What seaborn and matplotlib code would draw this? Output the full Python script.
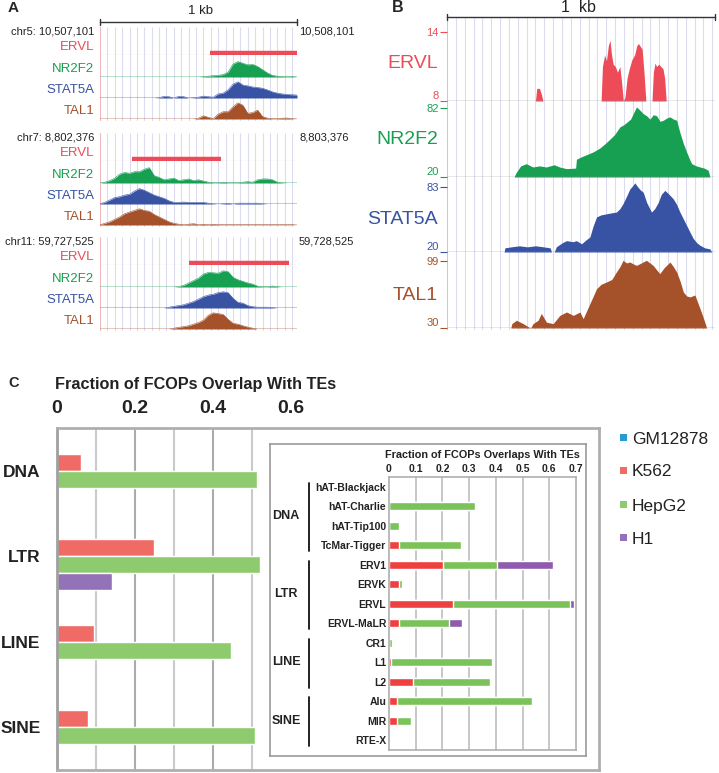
import numpy as np
import pandas as pd
import seaborn as sns
import matplotlib.pyplot as plt
from matplotlib.patches import Rectangle

sns.set_theme(style="white")
plt.rcParams['font.family'] = ['Liberation Sans', 'DejaVu Sans']

# ---------------- data ----------------
# panel A: three 1 kb loci, signal in 25 bp bins (relative height)
POS_A = np.arange(0, 1001, 25)
LOCI = ["chr5: 10,507,101", "chr7: 8,802,376", "chr11: 59,727,525"]
LOCI_END = ["10,508,101", "8,803,376", "59,728,525"]
ERVL_A = [(556, 1000), (160, 615), (450, 958)]

NR2F2_A = [
    [0, 0, 0, 0, 0, 0, 0, 0, 0, 0, 0, 0, 0, 0, 0, 0, 0, 0, 0, 0, 0,
     0.02, 0.05, 0.08, 0.1, 0.15, 0.3, 0.8, 0.95, 0.85, 0.75, 0.78, 0.65, 0.45, 0.25, 0.1, 0.05, 0.03, 0.02, 0.03, 0],
    [0, 0.05, 0.15, 0.3, 0.55, 0.65, 0.6, 0.7, 0.7, 0.85, 0.95, 0.45, 0.35, 0.2, 0.25, 0.3, 0.15, 0.2, 0.25, 0.15, 0.2,
     0.12, 0.05, 0.02, 0.02, 0.05, 0.02, 0.02, 0.02, 0.05, 0.08, 0.05, 0.2, 0.25, 0.25, 0.2, 0.05, 0.02, 0, 0, 0],
    [0, 0, 0, 0, 0, 0, 0, 0, 0, 0, 0, 0, 0, 0, 0, 0, 0.03, 0.1, 0.25, 0.4, 0.55,
     0.8, 0.9, 0.88, 0.85, 1.0, 0.95, 0.6, 0.45, 0.35, 0.25, 0.18, 0.05, 0.02, 0.02, 0.06, 0.02, 0, 0, 0, 0],
]
STAT5A_A = [
    [0, 0, 0, 0, 0, 0, 0, 0, 0, 0, 0, 0, 0.02, 0.1, 0.08, 0, 0.1, 0.08, 0, 0.02, 0.05,
     0.12, 0.08, 0.05, 0.25, 0.3, 0.5, 0.85, 1.0, 0.8, 0.75, 0.68, 0.65, 0.6, 0.5, 0.38, 0.3, 0.25, 0.22, 0.2, 0.18],
    [0.02, 0.1, 0.25, 0.4, 0.45, 0.55, 0.6, 0.8, 0.95, 0.85, 0.7, 0.55, 0.45, 0.35, 0.2, 0.1, 0.1, 0.12, 0.1, 0.1, 0.1,
     0.1, 0.05, 0.02, 0, 0.02, 0.05, 0, 0.05, 0.05, 0.05, 0.05, 0.05, 0.02, 0, 0, 0, 0, 0, 0, 0],
    [0, 0, 0, 0, 0, 0, 0, 0, 0, 0, 0, 0, 0, 0, 0.05, 0.1, 0.15, 0.2, 0.3, 0.4, 0.55,
     0.7, 0.8, 0.85, 0.95, 1.0, 0.95, 0.6, 0.35, 0.3, 0.15, 0.08, 0.05, 0.05, 0.05, 0.03, 0, 0, 0, 0, 0],
]
TAL1_A = [
    [0, 0, 0, 0, 0, 0, 0, 0, 0, 0, 0, 0, 0, 0, 0, 0, 0, 0, 0, 0, 0.05,
     0.2, 0.1, 0.02, 0.3, 0.45, 0.45, 0.75, 1.0, 0.85, 0.35, 0.4, 0.55, 0.15, 0.05, 0.02, 0.02, 0.05, 0.06, 0.02, 0],
    [0.02, 0.1, 0.2, 0.35, 0.5, 0.7, 0.8, 0.9, 1.0, 0.9, 0.85, 0.65, 0.5, 0.35, 0.2, 0.1, 0.05, 0.02, 0.05, 0.08, 0.02,
     0.05, 0.02, 0.05, 0.02, 0.02, 0.02, 0.02, 0.02, 0.02, 0.02, 0.02, 0.02, 0.02, 0.02, 0.02, 0.02, 0.02, 0.02, 0.02, 0],
    [0, 0, 0, 0, 0, 0, 0, 0, 0, 0, 0, 0, 0, 0, 0, 0.05, 0.1, 0.15, 0.2, 0.3, 0.4,
     0.55, 0.85, 1.0, 0.95, 0.9, 0.6, 0.35, 0.3, 0.2, 0.12, 0.05, 0, 0, 0, 0, 0, 0, 0, 0, 0],
]

# panel B: one zoomed 1 kb region, (position bp, signal)
ERVL_B_POS = [0, 330, 335, 345, 352, 358, 575, 580, 588, 595, 602, 608, 614, 620, 628, 636,
              645, 652, 658, 664, 672, 680, 690, 700, 708, 714, 720, 728, 735, 742, 765, 770,
              776, 782, 790, 798, 806, 812, 818, 1000]
ERVL_B_VAL = [8, 8, 9.1, 9.1, 8.6, 8, 8, 11.0, 12.0, 11.5, 12.8, 13.3, 12.0, 11.2, 11.0, 10.5,
              11.0, 9.5, 8, 8.3, 10.0, 10.8, 11.6, 12.0, 12.8, 13.0, 12.8, 12.5, 10.5, 8, 8, 10.5,
              11.3, 11.0, 11.2, 11.0, 10.8, 10.0, 8, 8]
NR2F2_B_POS = [0, 250, 258, 275, 296, 320, 345, 370, 400, 420, 446, 480, 483, 500, 520, 545, 570,
               590, 608, 625, 645, 660, 670, 685, 695, 707, 720, 732, 745, 757, 770, 782, 795, 807,
               820, 832, 845, 857, 869, 882, 894, 905, 913, 930, 944, 960, 975, 981, 1000]
NR2F2_B_VAL = [20, 20, 24, 30, 32, 29, 30, 29, 31, 29, 27.5, 28, 36, 38, 40, 42.5, 46,
               50, 54, 58, 65, 67, 69, 72, 77, 83, 80, 77, 75, 72, 76, 75, 70, 71,
               73, 74, 72, 71, 60, 50, 42.5, 36, 32, 30, 29, 28, 26, 20, 20]
STAT5A_B_POS = [0, 213, 216, 240, 270, 300, 330, 360, 385, 390, 400, 408, 430, 446, 470, 483, 502,
                520, 533, 545, 558, 575, 595, 615, 632, 645, 657, 670, 682, 692, 701, 712, 722, 732,
                745, 763, 775, 788, 800, 813, 828, 844, 857, 869, 882, 894, 907, 919, 932, 944, 962,
                981, 988, 1000]
STAT5A_B_VAL = [20, 20, 24, 25, 26, 25, 26, 25, 24, 20, 20, 25, 29, 31, 30, 31, 28,
                32, 34.5, 45, 54, 56, 57, 58, 58.7, 62, 67, 74, 81, 84, 87, 83, 80, 78,
                68, 58.7, 62, 68, 76, 79.7, 76, 71.6, 66, 58.7, 52, 45.8, 39, 33, 29, 26.5, 24,
                23, 20, 20]
TAL1_B_POS = [0, 238, 242, 259, 284, 305, 312, 321, 340, 352, 371, 396, 421, 446, 471, 496, 508,
              533, 558, 575, 595, 615, 632, 645, 657, 670, 682, 695, 707, 725, 744, 757, 769, 782,
              794, 810, 832, 845, 857, 870, 882, 894, 907, 925, 944, 957, 969, 1000]
TAL1_B_VAL = [30, 30, 34.5, 38, 34.5, 31, 30, 34.5, 38, 45, 36, 34.5, 43, 46.5, 43, 46.5, 39.6,
              55, 70.5, 75, 77.4, 80, 87.7, 93, 99.7, 97, 98, 96, 94.5, 97, 99.7, 97, 94.5, 90,
              86, 92, 98, 93, 87.7, 78, 67, 63, 62, 64, 50, 40, 30, 30]

# panel C: main chart
CLASSES = ["DNA", "LTR", "LINE", "SINE"]
CELLS = ["GM12878", "K562", "HepG2", "H1"]
MAIN_GM12878 = [0, 0, 0, 0]
MAIN_K562 = [0.062, 0.25, 0.095, 0.08]
MAIN_HEPG2 = [0.515, 0.522, 0.447, 0.509]
MAIN_H1 = [0, 0.142, 0, 0]

# panel C: inset (stacked)
INSET_LABELS = ["hAT-Blackjack", "hAT-Charlie", "hAT-Tip100", "TcMar-Tigger", "ERV1", "ERVK",
                "ERVL", "ERVL-MaLR", "CR1", "L1", "L2", "Alu", "MIR", "RTE-X"]
INSET_K562 = [0, 0, 0, 0.036, 0.203, 0.036, 0.241, 0.036, 0, 0.008, 0.09, 0.03, 0.03, 0]
INSET_HEPG2 = [0, 0.322, 0.038, 0.232, 0.201, 0.014, 0.435, 0.188, 0.01, 0.379, 0.289, 0.504, 0.052, 0]
INSET_H1 = [0, 0, 0, 0, 0.209, 0, 0.016, 0.048, 0, 0, 0, 0, 0, 0]
GROUPS = [("DNA", 0, 3), ("LTR", 4, 7), ("LINE", 8, 10), ("SINE", 11, 13)]

# ---------------- colours ----------------
C_ERVL, C_NR2F2, C_STAT5A, C_TAL1 = "#EC4B57", "#17A052", "#3853A4", "#A5522A"
LAV, PINK = "#DCDCF0", "#F3B3B3"
MAIN_COLORS = ["#2B9AD4", "#F06A66", "#8DCB6E", "#9472B8"]
INSET_COLORS = ["#2B9AD4", "#EE4040", "#7CC25A", "#8E5BAE"]
GRID_GREY = "#BDBDBD"

W, H = 719, 773
fig = plt.figure(figsize=(W / 100, H / 100), dpi=100)


def px_axes(x0, y0, x1, y1, z=1):
    ax = fig.add_axes([x0 / W, 1 - y1 / H, (x1 - x0) / W, (y1 - y0) / H])
    ax.set_zorder(z)
    ax.patch.set_alpha(0)
    return ax


ov = px_axes(0, 0, W, H, z=20)
ov.set_xlim(0, W)
ov.set_ylim(H, 0)
ov.axis('off')

# ---------------- panel A ----------------
ov.text(8, 8, "A", fontsize=11, fontweight='bold', va='center')
ov.plot([100, 297], [22, 22], color="#333333", lw=1)
ov.plot([100, 100], [19, 25], color="#333333", lw=1)
ov.plot([297, 297], [19, 25], color="#333333", lw=1)
ov.text(200, 11, "1 kb", fontsize=9.5, ha='center', va='center', color="#222222")

GRID_A = np.arange(0, 1001, 37.5)
offsets = [28, 50, 71, 92]
for b, top in enumerate([27, 133, 237]):
    bg = px_axes(100, top, 297, top + 94, z=1)
    bg.set_xlim(0, 1000)
    bg.set_ylim(0, 1)
    bg.axis('off')
    bg.vlines(GRID_A, 0, 1, color=LAV, lw=0.8)
    bg.axvline(0, color=PINK, lw=1.2)
    ov.text(94, top + 5, LOCI[b], fontsize=8, ha='right', va='center', color="#222222")
    ov.text(299, top + 5, LOCI_END[b], fontsize=8, ha='left', va='center', color="#222222")
    tracks = [("ERVL", C_ERVL, None), ("NR2F2", C_NR2F2, NR2F2_A[b]),
              ("STAT5A", C_STAT5A, STAT5A_A[b]), ("TAL1", C_TAL1, TAL1_A[b])]
    for k, (name, col, vals) in enumerate(tracks):
        base = top + offsets[k]
        ax = px_axes(100, base - 17, 297, base, z=2)
        if vals is None:
            ax.axhline(0, color=col, lw=0.8, alpha=0.6)
            s, e = ERVL_A[b]
            ax.hlines(0.12, s, e, color=col, lw=3.2)
        else:
            ax.fill_between(POS_A, 0, vals, color=col, lw=0)
            sns.lineplot(x=POS_A, y=vals, ax=ax, color=col, lw=0.4)
            ax.axhline(0, color=col, lw=0.8, alpha=0.7)
        ax.set_xlim(0, 1000)
        ax.set_ylim(0, 1.05)
        ax.axis('off')
        ov.text(94, base - 8, name, fontsize=9.5, ha='right', va='center', color=col)

# ---------------- panel B ----------------
ov.text(392, 8, "B", fontsize=11.5, fontweight='bold', va='center')
ov.plot([447, 715], [17, 17], color="#333333", lw=1)
ov.plot([447, 447], [14, 20], color="#333333", lw=1)
ov.plot([715, 715], [14, 20], color="#333333", lw=1)
ov.text(578, 8, "1  kb", fontsize=11.5, ha='center', va='center', color="#222222")

GRID_B = np.arange(0, 1001, 33)
bgB = px_axes(447, 17, 715, 330, z=1)
bgB.set_xlim(0, 1000)
bgB.set_ylim(0, 1)
bgB.axis('off')
bgB.vlines(GRID_B, 0, 1, color=LAV, lw=0.8)
bgB.axvline(0, color=PINK, lw=1.2)

B_TRACKS = [("ERVL", C_ERVL, ERVL_B_POS, ERVL_B_VAL, 8, 14, 32, 101, 63),
            ("NR2F2", C_NR2F2, NR2F2_B_POS, NR2F2_B_VAL, 20, 82, 108, 177, 140),
            ("STAT5A", C_STAT5A, STAT5A_B_POS, STAT5A_B_VAL, 20, 83, 187, 252, 220),
            ("TAL1", C_TAL1, TAL1_B_POS, TAL1_B_VAL, 30, 99, 261, 328, 295)]
for name, col, pos, vals, lo, hi, yt, yb, ylab in B_TRACKS:
    ax = px_axes(447, yt, 715, yb, z=2)
    ax.fill_between(pos, lo, vals, color=col, lw=0, clip_on=False)
    ax.axhline(lo, color="#8A8A8A", lw=1)
    ax.set_xlim(0, 1000)
    ax.set_ylim(lo, hi)
    for sp in ax.spines.values():
        sp.set_visible(False)
    ax.set_xticks([])
    ax.set_yticks([lo, hi])
    ax.set_yticklabels([str(lo), str(hi)], color=col, fontsize=8)
    ax.tick_params(axis='y', length=5, width=0.8, color=col, pad=1, left=True)
    # bottom value sits just above the baseline, as in the browser view
    ax.get_yticklabels()[0].set_va('bottom')
    ov.text(438, ylab, name, fontsize=14, ha='right', va='center', color=col)

# ---------------- panel C: main ----------------
ov.text(8, 383, "C", fontsize=10.5, fontweight='bold', va='center')
ov.text(55, 385, "Fraction of FCOPs Overlap With TEs", fontsize=11.7, fontweight='bold',
        va='center', color="#222222")

df_main = pd.DataFrame({
    "class": CLASSES * 4,
    "cell": np.repeat(CELLS, 4),
    "value": MAIN_GM12878 + MAIN_K562 + MAIN_HEPG2 + MAIN_H1,
})
axC = px_axes(57, 428, 599, 770, z=3)
for v in [0.1, 0.3, 0.5]:
    axC.axvline(v, color="#CACACA", lw=1.5, zorder=0.5)
for v in [0.2, 0.4]:
    axC.axvline(v, color="#ABABAB", lw=1.5, zorder=0.5)
sns.barplot(data=df_main, x="value", y="class", hue="cell", order=CLASSES, hue_order=CELLS,
            palette=MAIN_COLORS, width=0.8, saturation=1, legend=False, ax=axC, zorder=2)
axC.set_xlim(0, 1.393)
axC.set_ylim(3.5, -0.5)
axC.set_xlabel("")
axC.set_ylabel("")
axC.xaxis.tick_top()
axC.set_xticks([0, 0.2, 0.4, 0.6])
axC.set_xticklabels(["0", "0.2", "0.4", "0.6"], fontsize=14, fontweight='bold', color="#222222")
axC.tick_params(axis='x', length=0, pad=8)
axC.tick_params(axis='y', length=0, pad=12, labelsize=12.5)
for lbl in axC.get_yticklabels():
    lbl.set_fontweight('bold')
    lbl.set_color("#222222")
for side, sp in axC.spines.items():
    sp.set_visible(True)
    sp.set_color("#AFAFAF")
    sp.set_linewidth(2)
axC.spines['left'].set_color("#A0A0A0")

# legend
for y, lab, col in zip([439, 472, 506, 539], CELLS, MAIN_COLORS):
    ov.add_patch(Rectangle((620, y - 5), 6.5, 6.5, color=col, lw=0))
    ov.text(632, y, lab, fontsize=12.5, va='center', color="#222222")

# ---------------- panel C: inset ----------------
box = px_axes(270, 444, 586, 756, z=4)
box.patch.set_alpha(1)
box.patch.set_facecolor("white")
box.set_xticks([])
box.set_yticks([])
for sp in box.spines.values():
    sp.set_visible(True)
    sp.set_color("#9A9A9A")
    sp.set_linewidth(1.2)

inner = px_axes(389, 477, 576, 750, z=5)
for v in np.arange(0.1, 0.65, 0.1):
    inner.axvline(v, color=GRID_GREY, lw=1.2, zorder=0.5)
k = np.array(INSET_K562)
hp = np.array(INSET_HEPG2)
h1 = np.array(INSET_H1)
for vals, col in [(k + hp + h1, INSET_COLORS[3]), (k + hp, INSET_COLORS[2]), (k, INSET_COLORS[1])]:
    sns.barplot(x=vals, y=INSET_LABELS, orient='h', color=col, width=0.42, saturation=1,
                ax=inner, zorder=2)
inner.set_xlim(0, 0.7)
inner.set_ylim(13.5, -0.5)
inner.xaxis.tick_top()
inner.set_xticks([0, 0.1, 0.2, 0.3, 0.4, 0.5, 0.6, 0.7])
inner.set_xticklabels(["0", "0.1", "0.2", "0.3", "0.4", "0.5", "0.6", "0.7"],
                      fontsize=7.5, fontweight='bold', color="#222222")
inner.tick_params(axis='x', length=0, pad=2)
inner.tick_params(axis='y', length=0, pad=2, labelsize=7.5)
for lbl in inner.get_yticklabels():
    lbl.set_fontweight('bold')
    lbl.set_color("#222222")
for sp in inner.spines.values():
    sp.set_visible(True)
    sp.set_color("#AFAFAF")
    sp.set_linewidth(1.2)
ov.text(482, 455, "Fraction of FCOPs Overlaps With TEs", fontsize=7.8, fontweight='bold',
        ha='center', va='center', color="#222222")

tr = inner.get_yaxis_transform()
for name, lo, hi in GROUPS:
    inner.plot([-0.428, -0.428], [lo - 0.2, hi + 0.3], transform=tr, color="#111111",
               lw=1.3, clip_on=False)
    inner.text(-0.55, (lo + hi) / 2, name, transform=tr, fontsize=9, fontweight='bold',
               ha='center', va='center', color="#222222")

fig.savefig("out.png", dpi=100, facecolor="white")
